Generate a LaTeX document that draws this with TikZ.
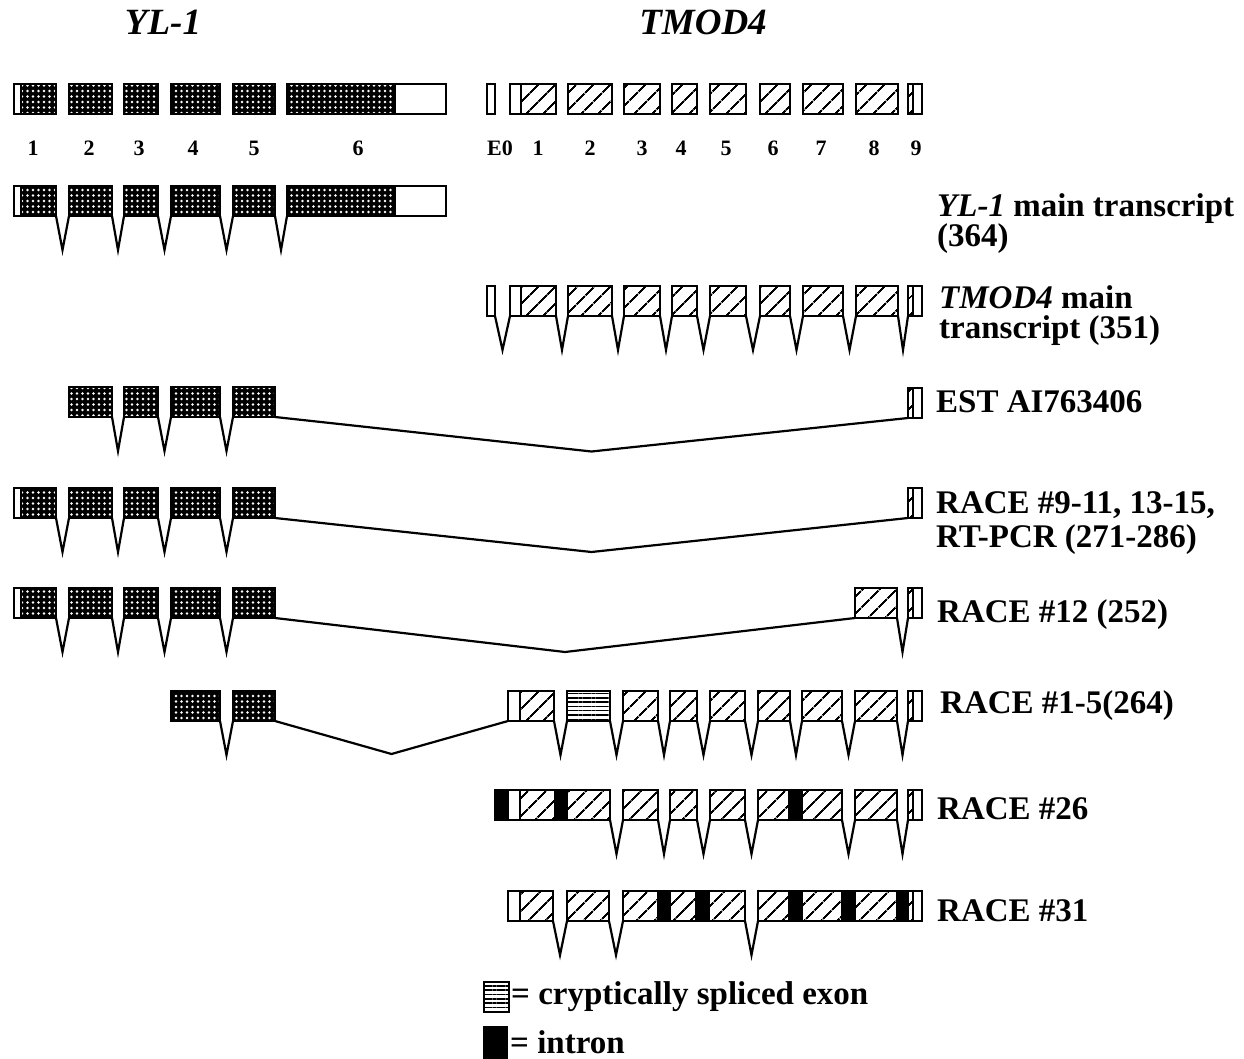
\documentclass[tikz,border=0pt]{standalone}
\usepackage{fontspec}
\setmainfont{Liberation Serif}
\usetikzlibrary{positioning,calc,patterns.meta}

\begin{document}
\begin{tikzpicture}[
  x=1pt, y=-1pt,
  box/.style={draw, line width=1.7pt, minimum height=30, inner sep=0pt,
    outer sep=0pt, anchor=north west},
  utr/.style={box, fill=white},
  yl/.style={box, preaction={fill=black},
    pattern={Dots[distance=5.5pt, radius=1.35pt]}, pattern color=white},
  tm/.style={box, pattern={Lines[angle=45, distance=13pt, line width=2.1pt]}},
  cry/.style={box, pattern={Lines[angle=0, distance=4.3pt, line width=1.5pt]}},
  intr/.style={box, fill=black},
  splice/.style={line width=2.2pt, line join=miter,
    to path={-- ($(\tikztostart)!.5!(\tikztotarget)+(0,#1)$) -- (\tikztotarget)}},
  splice/.default=34,
  lbl/.style={font=\fontsize{33}{30}\selectfont\bfseries, inner sep=0pt,
    anchor=base west, align=left},
  num/.style={font=\fontsize{22}{22}\selectfont\bfseries, inner sep=0pt, anchor=base},
  hdr/.style={font=\fontsize{37}{37}\selectfont\bfseries\itshape, inner sep=0pt, anchor=base}
]
\useasboundingbox (0,0) rectangle (1244,1059);

% headers
\node[hdr] (hyl) at (163,35) {YL-1};
\node[hdr] (htm) at (703,35) {TMOD4};

% genomic structure
\node[utr, minimum width=7] (g1u) at (14,84) {};
\foreach \n/\x/\w in {1/21/35, 2/69/43, 3/124/34, 4/171/49, 5/233/42, 6/287/108}
  \node[yl, minimum width=\w] (g\n) at (\x,84) {};
\node[utr, minimum width=51, right=0pt of g6] (g6u) {};

\node[utr, minimum width=8] (e0) at (487,84) {};
\node[utr, minimum width=11] (e1u) at (510,84) {};
\foreach \n/\x/\w in {1/521/35, 2/568/44, 3/624/36, 4/672/25, 5/710/36,
    6/760/30, 7/803/40, 8/856/42, 9/908/5}
  \node[tm, minimum width=\w] (e\n) at (\x,84) {};
\node[utr, minimum width=9, right=0pt of e9] (e9u) {};

\foreach \t/\x in {1/33, 2/89, 3/139, 4/193, 5/254, 6/358}
  \node[num] (gn\t) at (\x,156) {\t};
\foreach \t/\x in {E0/500, 1/538, 2/590, 3/642, 4/681, 5/726, 6/773, 7/821, 8/874, 9/916}
  \node[num] (en\t) at (\x,156) {\t};

% YL-1 main transcript
\node[utr, minimum width=7] (m1u) at (14,186) {};
\foreach \n/\x/\w in {1/21/35, 2/69/43, 3/124/34, 4/171/49, 5/233/42, 6/287/108}
  \node[yl, minimum width=\w] (m\n) at (\x,186) {};
\node[utr, minimum width=51, right=0pt of m6] (m6u) {};
\foreach \a/\b in {1/2, 2/3, 3/4, 4/5, 5/6}
  \draw[splice] (m\a.south east) to (m\b.south west);
\node[lbl] (lm) at (937,247) {\textit{YL-1} main transcript\\(364)};

% TMOD4 main transcript
\node[utr, minimum width=8] (n0) at (487,286) {};
\node[utr, minimum width=11] (n1u) at (510,286) {};
\foreach \n/\x/\w in {1/521/35, 2/568/44, 3/624/36, 4/672/25, 5/710/36,
    6/760/30, 7/803/40, 8/856/42, 9/908/5}
  \node[tm, minimum width=\w] (n\n) at (\x,286) {};
\node[utr, minimum width=9, right=0pt of n9] (n9u) {};
\draw[splice] (n0.south east) to (n1u.south west);
\foreach \a/\b in {1/2, 2/3, 3/4, 4/5, 5/6, 6/7, 7/8, 8/9}
  \draw[splice] (n\a.south east) to (n\b.south west);
\node[lbl] (ln) at (939,338) {\textit{TMOD4} main\\transcript (351)};

% EST
\foreach \n/\x/\w in {2/69/43, 3/124/34, 4/171/49, 5/233/42}
  \node[yl, minimum width=\w] (est\n) at (\x,387) {};
\node[tm, minimum width=5] (est9) at (908,388) {};
\node[utr, minimum width=9, right=0pt of est9] (est9u) {};
\foreach \a/\b in {2/3, 3/4, 4/5, 5/9}
  \draw[splice] (est\a.south east) to (est\b.south west);
\node[lbl] (lest) at (936,412) {EST AI763406};

% RACE #9-11
\node[utr, minimum width=7] (r1u) at (14,488) {};
\foreach \n/\x/\w in {1/21/35, 2/69/43, 3/124/34, 4/171/49, 5/233/42}
  \node[yl, minimum width=\w] (r\n) at (\x,488) {};
\node[tm, minimum width=5] (r9) at (908,488) {};
\node[utr, minimum width=9, right=0pt of r9] (r9u) {};
\foreach \a/\b in {1/2, 2/3, 3/4, 4/5, 5/9}
  \draw[splice] (r\a.south east) to (r\b.south west);
\node[lbl] (lr9) at (936,547) {RACE \#9-11, 13-15,\\[4pt]RT-PCR (271-286)};

% RACE #12
\node[utr, minimum width=7] (s1u) at (14,588) {};
\foreach \n/\x/\w in {1/21/35, 2/69/43, 3/124/34, 4/171/49, 5/233/42}
  \node[yl, minimum width=\w] (s\n) at (\x,588) {};
\node[tm, minimum width=42] (s8) at (855,588) {};
\node[tm, minimum width=5] (s9) at (908,588) {};
\node[utr, minimum width=9, right=0pt of s9] (s9u) {};
\foreach \a/\b in {1/2, 2/3, 3/4, 4/5, 5/8, 8/9}
  \draw[splice] (s\a.south east) to (s\b.south west);
\node[lbl] (lr12) at (937,622) {RACE \#12 (252)};

% RACE #1-5
\node[yl, minimum width=49] (cy4) at (171,691) {};
\node[yl, minimum width=42] (cy5) at (233,691) {};
\node[utr, minimum width=12] (c1u) at (508,691) {};
\node[tm, minimum width=34, right=0pt of c1u] (c1) {};
\node[cry, minimum width=43] (c2) at (567,691) {};
\foreach \n/\x/\w in {3/623/35, 4/670/27, 5/710/35, 6/758/32, 7/802/40, 8/855/42, 9/908/5}
  \node[tm, minimum width=\w] (c\n) at (\x,691) {};
\node[utr, minimum width=9, right=0pt of c9] (c9u) {};
\draw[splice] (cy4.south east) to (cy5.south west);
\draw[splice=33] (cy5.south east) to (c1u.south west);
\foreach \a/\b in {1/2, 2/3, 3/4, 4/5, 5/6, 6/7, 7/8, 8/9}
  \draw[splice] (c\a.south east) to (c\b.south west);
\node[lbl] (lr1) at (940,713) {RACE \#1-5(264)};

% RACE #26
\node[intr, minimum width=13] (d0) at (495,790) {};
\node[utr, minimum width=12, right=0pt of d0] (d1u) {};
\node[tm, minimum width=35, right=0pt of d1u] (d1) {};
\node[intr, minimum width=12, right=0pt of d1] (di1) {};
\node[tm, minimum width=43, right=0pt of di1] (d2) {};
\foreach \n/\x/\w in {3/623/35, 4/670/27, 5/710/35, 6/758/31, 8/855/42, 9/908/5}
  \node[tm, minimum width=\w] (d\n) at (\x,790) {};
\node[intr, minimum width=13, right=0pt of d6] (di6) {};
\node[tm, minimum width=40, right=0pt of di6] (d7) {};
\node[utr, minimum width=9, right=0pt of d9] (d9u) {};
\foreach \a/\b in {2/3, 3/4, 4/5, 5/6, 7/8, 8/9}
  \draw[splice] (d\a.south east) to (d\b.south west);
\node[lbl] (lr26) at (937,819) {RACE \#26};

% RACE #31
\node[utr, minimum width=12] (f1u) at (508,891) {};
\node[tm, minimum width=33, right=0pt of f1u] (f1) {};
\node[tm, minimum width=42] (f2) at (567,891) {};
\node[tm, minimum width=35] (f3) at (623,891) {};
\node[intr, minimum width=12, right=0pt of f3] (fi3) {};
\node[tm, minimum width=26, right=0pt of fi3] (f4) {};
\node[intr, minimum width=13, right=0pt of f4] (fi4) {};
\node[tm, minimum width=36, right=0pt of fi4] (f5) {};
\node[tm, minimum width=31] (f6) at (758,891) {};
\node[intr, minimum width=13, right=0pt of f6] (fi6) {};
\node[tm, minimum width=40, right=0pt of fi6] (f7) {};
\node[intr, minimum width=13, right=0pt of f7] (fi7) {};
\node[tm, minimum width=42, right=0pt of fi7] (f8) {};
\node[intr, minimum width=11, right=0pt of f8] (fi8) {};
\node[tm, minimum width=5, right=0pt of fi8] (f9) {};
\node[utr, minimum width=9, right=0pt of f9] (f9u) {};
\foreach \a/\b in {1/2, 2/3, 5/6}
  \draw[splice] (f\a.south east) to (f\b.south west);
\node[lbl] (lr31) at (937,921) {RACE \#31};

% legend
\node[cry, minimum width=25] (lgc) at (484,982) {};
\node[lbl, right=2pt of lgc] (lgct) {= cryptically spliced exon};
\node[intr, minimum width=23, minimum height=31] (lgi) at (484,1027) {};
\node[lbl, right=3pt of lgi] (lgit) {= intron};
\end{tikzpicture}
\end{document}
